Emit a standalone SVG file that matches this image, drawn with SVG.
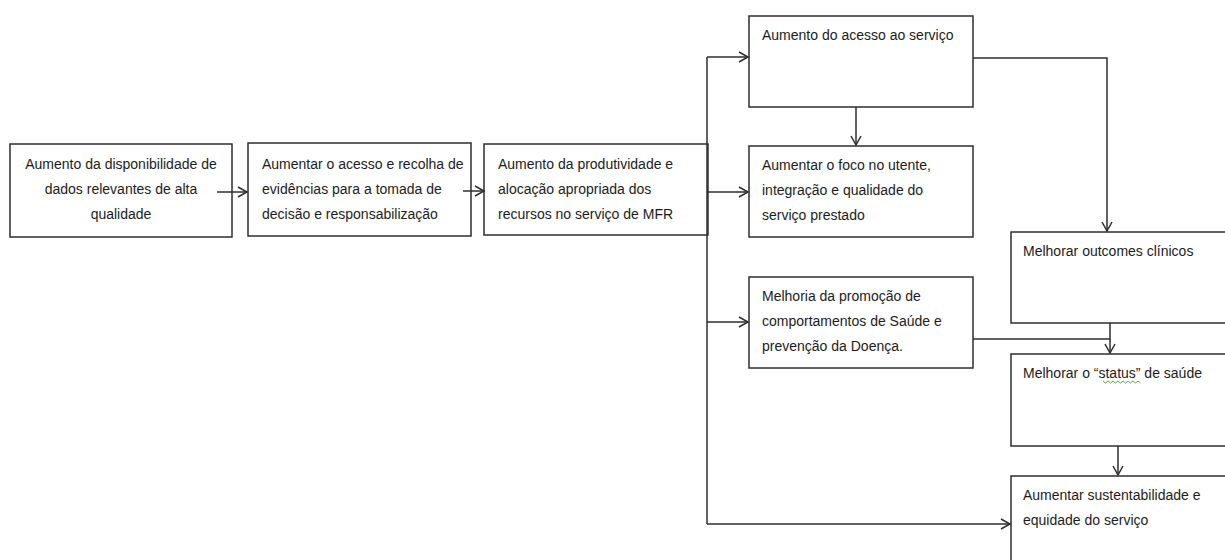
<svg xmlns="http://www.w3.org/2000/svg" width="1225" height="560" viewBox="0 0 1225 560">
  <style>
    .box { fill: #ffffff; stroke: #2e2e2e; stroke-width: 1.5; }
    .lbl { font-family: "Liberation Sans", Arial, sans-serif; font-size: 14px; fill: #1c1c1c; }
    .mid { text-anchor: middle; }
    .con { fill: none; stroke: #2e2e2e; stroke-width: 1.5; }
  </style>
  <defs>
    <marker id="arr" markerWidth="12" markerHeight="12" refX="10" refY="6" orient="auto" markerUnits="userSpaceOnUse">
      <path d="M1,1 L10,6 L1,11" fill="none" stroke="#2e2e2e" stroke-width="1.5"/>
    </marker>
  </defs>
  <rect width="1225" height="560" fill="#ffffff"/>

  <g id="n1">
    <rect class="box" x="10" y="144" width="222" height="93"/>
    <text class="lbl mid" x="121" y="169">Aumento da disponibilidade de</text>
    <text class="lbl mid" x="121" y="194">dados relevantes de alta</text>
    <text class="lbl mid" x="121" y="219">qualidade</text>
  </g>
  <g id="n2">
    <rect class="box" x="248" y="143" width="223" height="93"/>
    <text class="lbl" x="262" y="169">Aumentar o acesso e recolha de</text>
    <text class="lbl" x="262" y="194">evidências para a tomada de</text>
    <text class="lbl" x="262" y="219">decisão e responsabilização</text>
  </g>
  <g id="n3">
    <rect class="box" x="484" y="144" width="224" height="91"/>
    <text class="lbl" x="498" y="169">Aumento da produtividade e</text>
    <text class="lbl" x="498" y="194">alocação apropriada dos</text>
    <text class="lbl" x="498" y="219">recursos no serviço de MFR</text>
  </g>
  <g id="n4">
    <rect class="box" x="749" y="16" width="224" height="91"/>
    <text class="lbl" x="762" y="40">Aumento do acesso ao serviço</text>
  </g>
  <g id="n5">
    <rect class="box" x="749" y="146" width="224" height="91"/>
    <text class="lbl" x="762" y="170">Aumentar o foco no utente,</text>
    <text class="lbl" x="762" y="195">integração e qualidade do</text>
    <text class="lbl" x="762" y="220">serviço prestado</text>
  </g>
  <g id="n6">
    <rect class="box" x="749" y="277" width="224" height="91"/>
    <text class="lbl" x="762" y="301">Melhoria da promoção de</text>
    <text class="lbl" x="762" y="326">comportamentos de Saúde e</text>
    <text class="lbl" x="762" y="351">prevenção da Doença.</text>
  </g>
  <g id="n7">
    <rect class="box" x="1011" y="232" width="240" height="91"/>
    <text class="lbl" x="1023" y="256">Melhorar outcomes clínicos</text>
  </g>
  <g id="n8">
    <rect class="box" x="1011" y="354" width="240" height="92"/>
    <text class="lbl" x="1023" y="378">Melhorar o “status” de saúde</text>
    <path d="M1103,381 l2.5,2 l2.5,-2 l2.5,2 l2.5,-2 l2.5,2 l2.5,-2 l2.5,2 l2.5,-2 l2.5,2 l2.5,-2 l2.5,2 l2.5,-2 l2.5,2 l2.5,-2 l2.5,2" fill="none" stroke="#5fa84a" stroke-width="1"/>
  </g>
  <g id="n9">
    <rect class="box" x="1011" y="476" width="240" height="100"/>
    <text class="lbl" x="1023" y="500">Aumentar sustentabilidade e</text>
    <text class="lbl" x="1023" y="525">equidade do serviço</text>
  </g>

  <g id="connectors">
    <path class="con" d="M217,192 L247,192" marker-end="url(#arr)"/>
    <path class="con" d="M463,191 L484,191" marker-end="url(#arr)"/>
    <path class="con" d="M707,57 L707,524"/>
    <path class="con" d="M707,57 L748,57" marker-end="url(#arr)"/>
    <path class="con" d="M707,192 L748,192" marker-end="url(#arr)"/>
    <path class="con" d="M707,322 L748,322" marker-end="url(#arr)"/>
    <path class="con" d="M707,524 L1010,524" marker-end="url(#arr)"/>
    <path class="con" d="M856,107 L856,145" marker-end="url(#arr)"/>
    <path class="con" d="M973,58 L1107,58 L1107,231" marker-end="url(#arr)"/>
    <path class="con" d="M973,339 L1110,339"/>
    <path class="con" d="M1110,323 L1110,353" marker-end="url(#arr)"/>
    <path class="con" d="M1118,446 L1118,475" marker-end="url(#arr)"/>
  </g>
</svg>
